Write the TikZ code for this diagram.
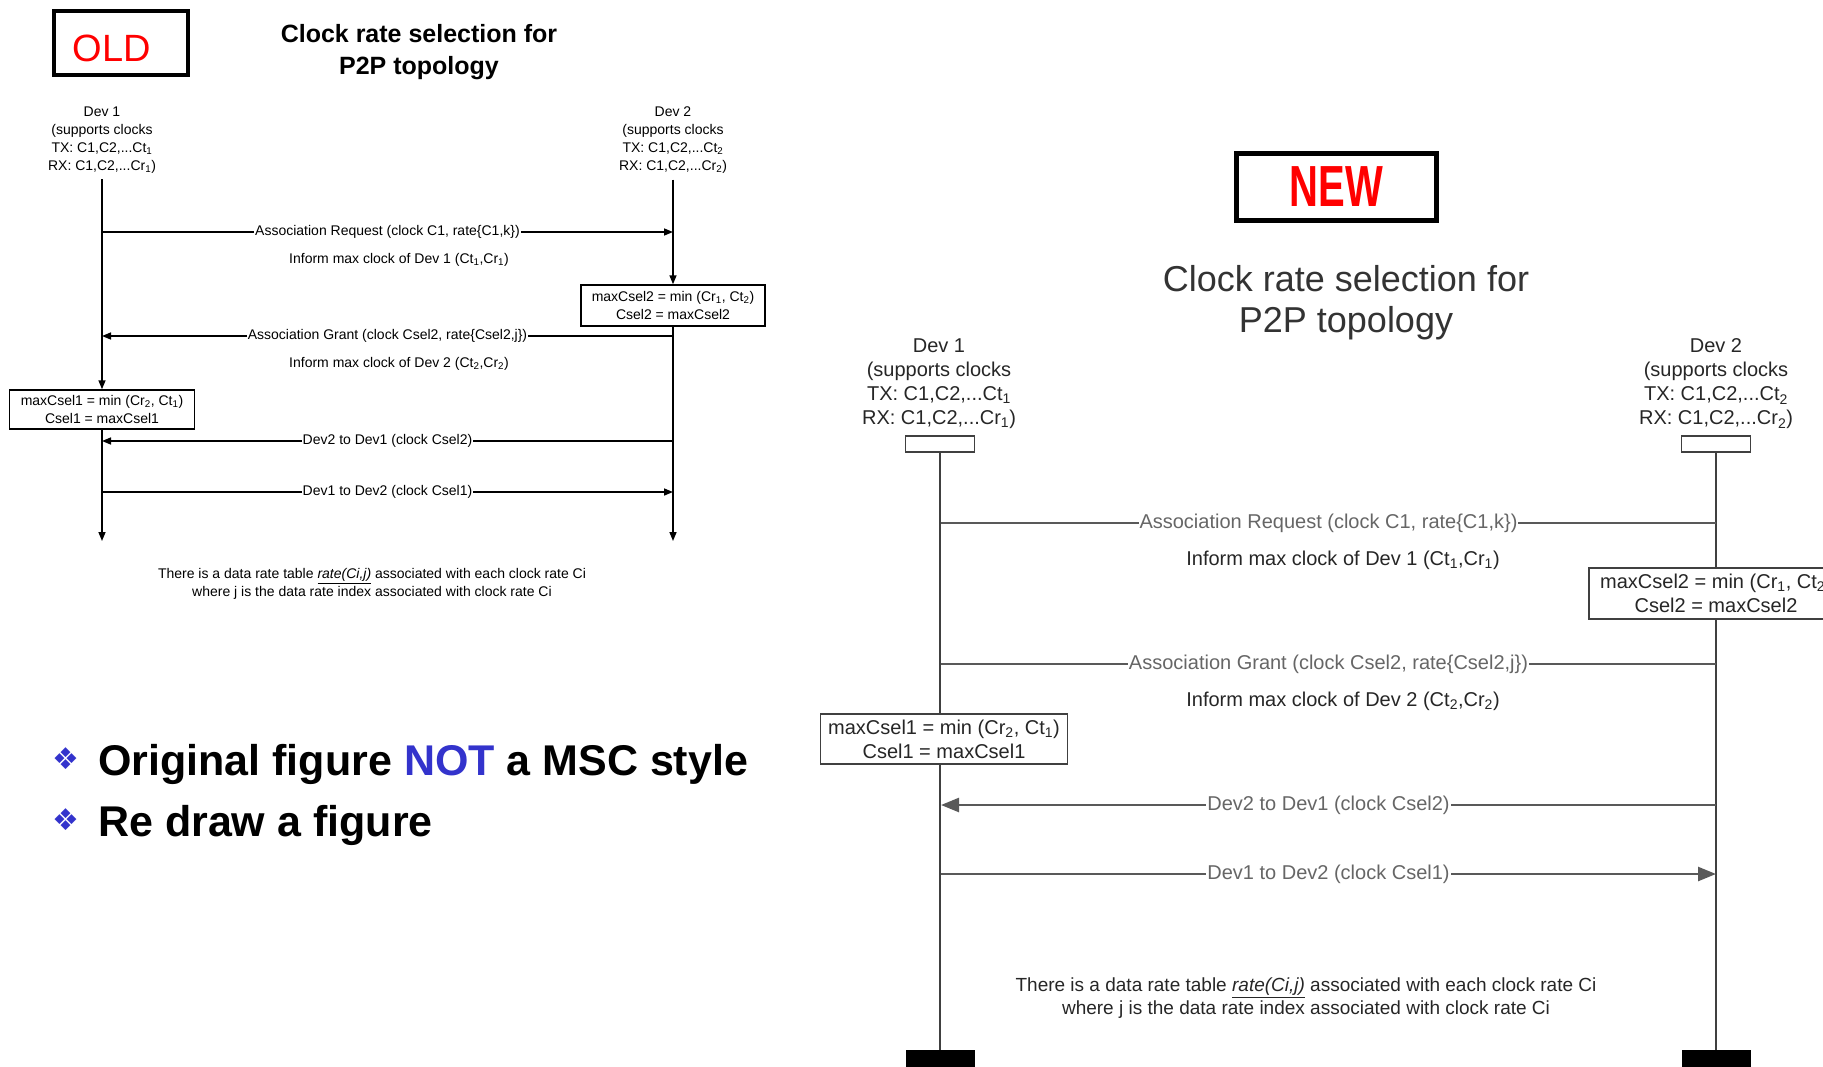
\documentclass[tikz,border=0pt]{standalone}
\usepackage{fontspec}
\setmainfont{Liberation Sans}
\newfontfamily\symfont{DejaVu Sans}
\usepackage{graphicx}
\usepackage{tikz}
\usetikzlibrary{arrows.meta}
\definecolor{bulletblue}{RGB}{51,51,204}
\definecolor{tagred}{RGB}{255,0,0}

\begin{document}
\begin{tikzpicture}[x=1pt,y=-1pt,
  oldtxt/.style={inner sep=0pt,align=center,font=\fontsize{14}{18}\selectfont},
  oldbox/.style={draw,line width=1.5pt,fill=white,align=center,inner sep=2pt,
    font=\fontsize{14}{18}\selectfont},
  oldlife/.style={line width=1.5pt,-{Triangle[length=9pt,width=7pt]}},
  oldlbl/.style={fill=white,inner sep=1pt,font=\fontsize{14}{18}\selectfont},
  newtxt/.style={inner sep=0pt,align=center,text=black!85,font=\fontsize{20}{24}\selectfont},
  newbox/.style={draw=black!75,line width=1.5pt,fill=white,align=center,inner sep=2pt,
    text=black!85,font=\fontsize{20}{24}\selectfont},
  headbox/.style={draw=black!75,line width=1.5pt,minimum width=69pt,minimum height=16pt,inner sep=0pt},
  footbox/.style={fill=black,minimum width=69pt,minimum height=30pt,inner sep=0pt},
  newlife/.style={draw=black!75,line width=1.5pt},
  newmsg/.style={draw=black!65,line width=2.5pt},
  newlbl/.style={fill=white,inner sep=1pt,text=black!60,font=\fontsize{20}{24}\selectfont},
  newtip/.style={-{Triangle[length=18pt,width=14pt]}},
  tagbox/.style={draw,line width=4.5pt,inner sep=0pt},
  bullettxt/.style={anchor=base west,inner sep=0pt,font=\fontsize{43}{48}\selectfont\bfseries}]
\useasboundingbox (0,0) rectangle (1823,1066);
\clip (0,0) rectangle (1823,1066);

% ---- OLD figure
\node[tagbox,minimum width=134pt,minimum height=64pt] (oldtag) at (121,43) {};
\node[inner sep=0pt,text=tagred,font=\fontsize{38}{40}\selectfont] (oldword) at (112,48) {OLD};
\node[inner sep=0pt,align=center,font=\fontsize{25}{32}\selectfont\bfseries] (oldtitle) at (419,52)
  {Clock rate selection for\\P2P topology};

\node[oldtxt] (odev1) at (102,140) {Dev 1\\(supports clocks\\TX: C1,C2,...Ct\textsubscript{1}\\RX: C1,C2,...Cr\textsubscript{1})};
\node[oldtxt] (odev2) at (673,140) {Dev 2\\(supports clocks\\TX: C1,C2,...Ct\textsubscript{2}\\RX: C1,C2,...Cr\textsubscript{2})};

\node[oldbox,minimum width=184pt,minimum height=41pt] (ocalc2) at (673,305.5)
  {maxCsel2 = min (Cr\textsubscript{1}, Ct\textsubscript{2})\\Csel2 = maxCsel2};
\node[oldbox,minimum width=185pt,minimum height=39pt] (ocalc1) at (102,409.5)
  {maxCsel1 = min (Cr\textsubscript{2}, Ct\textsubscript{1})\\Csel1 = maxCsel1};

\coordinate (oend1) at (102,541);
\coordinate (oend2) at (673,541);
\draw[oldlife,shorten <=6pt] (odev1) -- (ocalc1);
\draw[oldlife] (ocalc1) -- (oend1);
\draw[oldlife,shorten <=6pt] (odev2) -- (ocalc2);
\draw[oldlife] (ocalc2) -- (oend2);

\foreach \nm/\yy in {req/232,grant/336,back/441,fwd/492} {
  \coordinate (o1\nm) at (102,\yy);
  \coordinate (o2\nm) at (673,\yy);
}
\draw[oldlife] (o1req) -- node[oldlbl] {Association Request (clock C1, rate\{C1,k\})} (o2req);
\node[oldtxt] (oinf1) at (399,260) {Inform max clock of Dev 1 (Ct\textsubscript{1},Cr\textsubscript{1})};
\draw[oldlife] (o2grant) -- node[oldlbl] {Association Grant (clock Csel2, rate\{Csel2,j\})} (o1grant);
\node[oldtxt] (oinf2) at (399,364) {Inform max clock of Dev 2 (Ct\textsubscript{2},Cr\textsubscript{2})};
\draw[oldlife] (o2back) -- node[oldlbl] {Dev2 to Dev1 (clock Csel2)} (o1back);
\draw[oldlife] (o1fwd) -- node[oldlbl] {Dev1 to Dev2 (clock Csel1)} (o2fwd);

\node[oldtxt] (onote) at (372,584) {There is a data rate table \underline{\textit{rate(Ci,j)}} associated with each clock rate Ci\\
  where j is the data rate index associated with clock rate Ci};

% ---- remarks
\node[inner sep=0pt,text=bulletblue,font=\symfont\fontsize{30}{30}\selectfont] (bul1) at (66,759) {❖};
\node[bullettxt] (rem1) at (98,775) {Original figure \textcolor{bulletblue}{NOT} a MSC style};
\node[inner sep=0pt,text=bulletblue,font=\symfont\fontsize{30}{30}\selectfont] (bul2) at (66,820) {❖};
\node[bullettxt] (rem2) at (98,836) {Re draw a figure};

% ---- NEW figure
\node[tagbox,minimum width=200pt,minimum height=67pt,line width=5pt] (newtag) at (1336.5,187)
  {\scalebox{0.69}[1]{\color{tagred}\fontsize{58}{60}\selectfont\bfseries NEW}};
\node[inner sep=0pt,align=center,text=black!80,font=\fontsize{36}{41}\selectfont] (newtitle) at (1346,303)
  {Clock rate selection for\\P2P topology};

\node[newtxt] (ndev1) at (939,384) {Dev 1\\(supports clocks\\TX: C1,C2,...Ct\textsubscript{1}\\RX: C1,C2,...Cr\textsubscript{1})};
\node[newtxt] (ndev2) at (1716,384) {Dev 2\\(supports clocks\\TX: C1,C2,...Ct\textsubscript{2}\\RX: C1,C2,...Cr\textsubscript{2})};

\node[headbox] (nhead1) at (940,444) {};
\node[headbox] (nhead2) at (1716,444) {};
\node[footbox] (nfoot1) at (940,1065) {};
\node[footbox] (nfoot2) at (1716,1065) {};
\draw[newlife] (nhead1) -- (nfoot1);
\draw[newlife] (nhead2) -- (nfoot2);

\node[newbox,minimum width=254pt,minimum height=51pt] (ncalc2) at (1716,593.5)
  {maxCsel2 = min (Cr\textsubscript{1}, Ct\textsubscript{2})\\Csel2 = maxCsel2};
\node[newbox,minimum width=247pt,minimum height=50pt] (ncalc1) at (944,739)
  {maxCsel1 = min (Cr\textsubscript{2}, Ct\textsubscript{1})\\Csel1 = maxCsel1};

\foreach \nm/\yy in {req/523,grant/664,back/805,fwd/874} {
  \coordinate (n1\nm) at (941,\yy);
  \coordinate (n2\nm) at (1716,\yy);
}
\draw[newmsg] (n1req) -- node[newlbl] {Association Request (clock C1, rate\{C1,k\})} (n2req);
\node[newtxt] (ninf1) at (1343,560) {Inform max clock of Dev 1 (Ct\textsubscript{1},Cr\textsubscript{1})};
\draw[newmsg] (n1grant) -- node[newlbl] {Association Grant (clock Csel2, rate\{Csel2,j\})} (n2grant);
\node[newtxt] (ninf2) at (1343,701) {Inform max clock of Dev 2 (Ct\textsubscript{2},Cr\textsubscript{2})};
\draw[newmsg,newtip] (n2back) -- node[newlbl] {Dev2 to Dev1 (clock Csel2)} (n1back);
\draw[newmsg,newtip] (n1fwd) -- node[newlbl] {Dev1 to Dev2 (clock Csel1)} (n2fwd);

\node[newtxt,font=\fontsize{19}{23}\selectfont] (nnote) at (1306,998)
  {There is a data rate table \underline{\textit{rate(Ci,j)}} associated with each clock rate Ci\\
  where j is the data rate index associated with clock rate Ci};
\end{tikzpicture}
\end{document}
